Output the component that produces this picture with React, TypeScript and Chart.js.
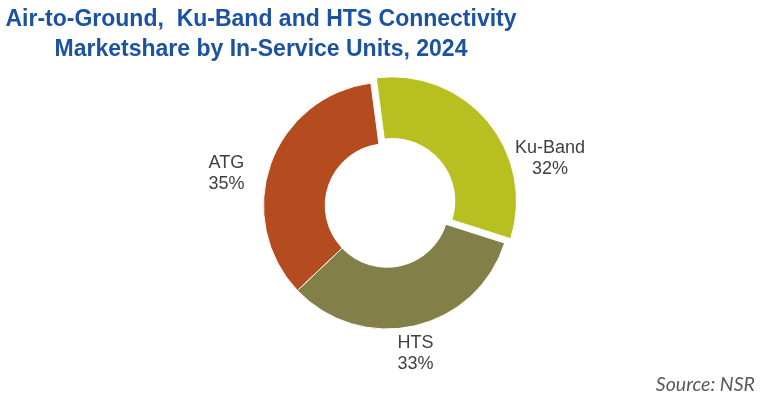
import { useEffect, useRef } from "react";
import { Chart, registerables } from "chart.js";
import type { ChartConfiguration, Plugin } from "chart.js";

Chart.register(...registerables);

const categories = ["Ku-Band", "HTS", "ATG"];
const shares = [32, 33, 35];
const sliceColors = ["#B8BF20", "#837F48", "#B54C20"];
// chart.js moves an arc by offset / 4 px
const explode = [28, 0, 0];

// label block centre relative to the ring centre, in outer-radius units
const labelPlacement = [
  { dx: 1.32, dy: -0.39 },
  { dx: 0.23, dy: 1.19 },
  { dx: -1.3, dy: -0.27 },
];

const sliceLabels: Plugin<"doughnut"> = {
  id: "sliceLabels",
  afterDatasetsDraw(chart) {
    const meta = chart.getDatasetMeta(0);
    const ctx = chart.ctx;
    const total = shares.reduce((a, b) => a + b, 0);
    ctx.save();
    ctx.font = '18px "Liberation Sans", Arial, sans-serif';
    ctx.fillStyle = "#404040";
    ctx.textAlign = "center";
    ctx.textBaseline = "alphabetic";
    meta.data.forEach((el, i) => {
      const { x, y, outerRadius } = el.getProps(["x", "y", "outerRadius"], true) as {
        x: number;
        y: number;
        outerRadius: number;
      };
      const p = labelPlacement[i];
      const lx = x + p.dx * outerRadius;
      const ly = y + p.dy * outerRadius;
      const pct = Math.round((shares[i] / total) * 100);
      ctx.fillText(categories[i], lx, ly - 4);
      ctx.fillText(`${pct}%`, lx, ly + 17);
    });
    ctx.restore();
  },
};

export default function App() {
  const canvasRef = useRef<HTMLCanvasElement | null>(null);

  useEffect(() => {
    if (!canvasRef.current) return;
    const config: ChartConfiguration<"doughnut"> = {
      type: "doughnut",
      data: {
        labels: categories,
        datasets: [
          {
            data: shares,
            backgroundColor: sliceColors,
            borderColor: "#ffffff",
            borderWidth: 1,
            offset: explode,
            hoverOffset: 0,
          },
        ],
      },
      options: {
        responsive: false,
        animation: false,
        cutout: "50%",
        rotation: -7.5,
        layout: { padding: { left: 249, right: 243, top: 67.5, bottom: 60.5 } },
        plugins: {
          legend: { display: false },
          tooltip: { enabled: false },
        },
      },
      plugins: [sliceLabels],
    };
    const chart = new Chart(canvasRef.current, config);
    return () => chart.destroy();
  }, []);

  return (
    <div style={{ position: "absolute", left: 0, top: 0, width: 768, height: 404, background: "#fff" }}>
      <canvas ref={canvasRef} width={768} height={404} style={{ position: "absolute", left: 0, top: 0 }} />
      <div
        style={{
          position: "absolute",
          left: 0,
          top: 3,
          width: 522,
          textAlign: "center",
          font: 'bold 23px/30px "Liberation Sans", Arial, sans-serif',
          color: "#1B52A2",
          whiteSpace: "pre",
        }}
      >
        {"Air-to-Ground,  Ku-Band and HTS Connectivity\nMarketshare by In-Service Units, 2024"}
      </div>
      <div
        style={{
          position: "absolute",
          right: 13,
          top: 374,
          font: 'italic 19.5px/20px Lato, "Open Sans", sans-serif',
          color: "#595959",
        }}
      >
        Source: NSR
      </div>
    </div>
  );
}
